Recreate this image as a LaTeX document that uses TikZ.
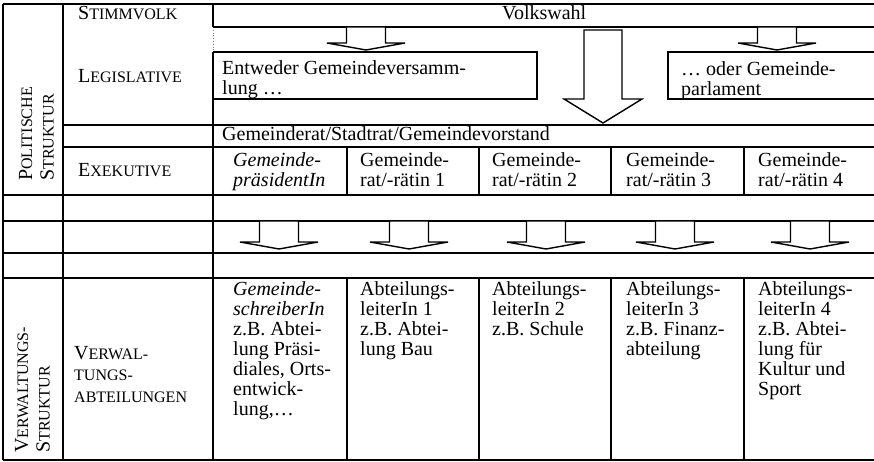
\documentclass[tikz,border=0pt]{standalone}
\usepackage{fontspec}
\setmainfont{Liberation Serif}
\newcommand\SmC[1]{{\fontsize{16}{20}\selectfont #1}}
\newcommand\Lines[1]{\begin{tabular}[t]{@{}l@{}}#1\end{tabular}}
\frenchspacing
\begin{document}
\begin{tikzpicture}[x=1pt,y=-1pt,
  font=\fontsize{20}{20}\selectfont,
  grid/.style={line width=1.6pt},
  txt/.style={anchor=base west, inner sep=0pt},
  lbl/.style={anchor=base west, inner sep=0pt, font=\fontsize{20}{21.5}\selectfont},
  arr/.style={draw, fill=white, line width=1.4pt, line join=miter}]
\useasboundingbox (0,0) rectangle (874,462);
% grid
\draw[grid] (3,4) -- (874,4);
\draw[grid] (3,460) -- (874,460);
\draw[grid] (3,4) -- (3,460);
\draw[grid] (63,4) -- (63,460);
\draw[grid] (213,4) -- (213,27);
\draw[line width=0.8pt, dotted, gray] (213,27) -- (213,52);
\draw[grid] (213,52) -- (213,460);
\draw[grid] (213,27) -- (874,27);
\draw[grid] (213,52) -- (537,52) -- (537,99) -- (213,99);
\draw[grid] (874,52) -- (668,52) -- (668,99) -- (874,99);
\draw[grid] (63,125) -- (874,125);
\draw[grid] (63,147) -- (874,147);
\foreach \x in {347,479,611,744} {
  \draw[grid] (\x,147) -- (\x,195);
  \draw[grid] (\x,278) -- (\x,460);
}
\foreach \y in {195,221,253,278} {
  \draw[grid] (3,\y) -- (874,\y);
}
% arrows
\foreach \c in {366,777} {
  \draw[arr] ({\c-19.5},27) -- ({\c-19.5},43) -- ({\c-39},43) -- (\c,50) -- ({\c+39},43) -- ({\c+19.5},43) -- ({\c+19.5},27) -- cycle;
}
\draw[arr] (584,30) -- (584,99) -- (564,99) -- (603,123) -- (642,99) -- (622,99) -- (622,30) -- cycle;
\foreach \c in {279,409,546,675,810} {
  \draw[arr] ({\c-19.5},221) -- ({\c-19.5},242) -- ({\c-39},242) -- (\c,249) -- ({\c+39},242) -- ({\c+19.5},242) -- ({\c+19.5},221) -- cycle;
}
% left labels
\node[lbl, rotate=90] (pol) at (32,181) {\Lines{P\SmC{OLITISCHE}\\S\SmC{TRUKTUR}}};
\node[lbl, rotate=90] (verw) at (28,453) {\Lines{V\SmC{ERWALTUNGS-}\\S\SmC{TRUKTUR}}};
\node[txt] (stimm) at (78,20) {S\SmC{TIMMVOLK}};
\node[txt] (legis) at (78,83) {L\SmC{EGISLATIVE}};
\node[txt] (exek) at (78,177) {E\SmC{XEKUTIVE}};
\node[lbl] (vabt) at (74,359) {\Lines{V\SmC{ERWAL-}\\\SmC{TUNGS-}\\\SmC{ABTEILUNGEN}}};
% top texts
\node[txt] (volk) at (502,20) {Volkswahl};
\node[txt] (entw) at (222,75) {\Lines{Entweder Gemeindeversamm-\\lung …}};
\node[txt] (oder) at (681,76) {\Lines{… oder Gemeinde-\\parlament}};
\node[txt] (grat) at (222,141) {Gemeinderat/Stadtrat/Gemeindevorstand};
% exekutive row
\node[txt] (e1) at (233,167) {\Lines{\textit{Gemeinde-}\\\textit{präsidentIn}}};
\node[txt] (e2) at (360,167) {\Lines{Gemeinde-\\rat/-rätin 1}};
\node[txt] (e3) at (492,167) {\Lines{Gemeinde-\\rat/-rätin 2}};
\node[txt] (e4) at (626,167) {\Lines{Gemeinde-\\rat/-rätin 3}};
\node[txt] (e5) at (758,167) {\Lines{Gemeinde-\\rat/-rätin 4}};
% verwaltung row
\node[txt] (v1) at (233,295) {\Lines{\textit{Gemeinde-}\\\textit{schreiberIn}\\z.B. Abtei-\\lung Präsi-\\diales, Orts-\\entwick-\\lung,…}};
\node[txt] (v2) at (360,295) {\Lines{Abteilungs-\\leiterIn 1\\z.B. Abtei-\\lung Bau}};
\node[txt] (v3) at (492,295) {\Lines{Abteilungs-\\leiterIn 2\\z.B. Schule}};
\node[txt] (v4) at (626,295) {\Lines{Abteilungs-\\leiterIn 3\\z.B. Finanz-\\abteilung}};
\node[txt] (v5) at (758,295) {\Lines{Abteilungs-\\leiterIn 4\\z.B. Abtei-\\lung für\\Kultur und\\Sport}};
\end{tikzpicture}
\end{document}
